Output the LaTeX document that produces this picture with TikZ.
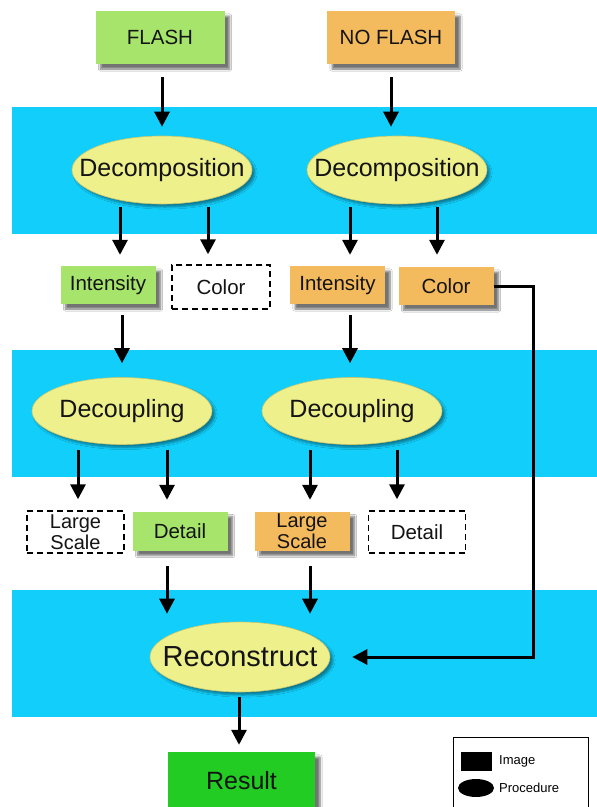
\documentclass[tikz,border=0pt]{standalone}
\usepackage{fontspec}
\setmainfont{Liberation Sans}
\usetikzlibrary{arrows.meta,calc,shadows.blur,shapes.geometric}

\definecolor{bandcyan}{RGB}{18,206,250}
\definecolor{flashgreen}{RGB}{166,228,108}
\definecolor{noflashorange}{RGB}{244,186,94}
\definecolor{procyellow}{RGB}{238,240,140}
\definecolor{procedge}{RGB}{200,200,110}
\definecolor{resultgreen}{RGB}{34,204,34}
\definecolor{inktext}{RGB}{20,20,20}

% ellipse label that does not widen its ellipse
\newcommand{\proclabel}[1]{\makebox[0pt]{#1}}

\tikzset{
  imgbox/.style={rectangle, inner sep=0pt, text=inktext,
    blur shadow={shadow xshift=5pt, shadow yshift=-5pt, shadow blur steps=6, shadow opacity=55}},
  greenbox/.style={imgbox, fill=flashgreen},
  orangebox/.style={imgbox, fill=noflashorange},
  emptybox/.style={rectangle, inner sep=0pt, fill=white, draw=black, line width=1.4pt,
    dash pattern=on 6pt off 4pt, text=inktext},
  procnode/.style={ellipse, inner sep=0pt, fill=procyellow, draw=procedge, line width=0.6pt,
    text=inktext, minimum width=180pt,
    blur shadow={shadow xshift=3pt, shadow yshift=-3pt, shadow blur steps=5, shadow opacity=40}},
  arr/.style={line width=3pt, -{Triangle[width=15pt,length=15pt]}},
  bigfont/.style={font=\fontsize{25}{30}\selectfont},
  midfont/.style={font=\fontsize{20.5}{22}\selectfont},
  smallfont/.style={font=\fontsize{13}{15}\selectfont},
}

\begin{document}
\begin{tikzpicture}[x=1pt,y=-1pt]
  \useasboundingbox (0,0) rectangle (597,807);
  \fill[white] (0,0) rectangle (597,807);

  % processing bands
  \fill[bandcyan] (12,107) rectangle (597,234);
  \fill[bandcyan] (12,350) rectangle (597,477);
  \fill[bandcyan] (12,590) rectangle (597,717);

  % input images
  \node[greenbox, midfont, minimum width=129pt, minimum height=53pt] (flash) at (160,37.5) {FLASH};
  \node[orangebox, midfont, minimum width=128pt, minimum height=53pt] (noflash) at (391,37.5) {NO FLASH};

  % decomposition
  \node[procnode, bigfont, minimum height=68pt] (dec1) at (162,170) {\proclabel{Decomposition}};
  \node[procnode, bigfont, minimum height=68pt] (dec2) at (397,170) {\proclabel{Decomposition}};

  \node[greenbox, midfont, minimum width=95pt, minimum height=38pt] (int1) at (108,285) {Intensity};
  \node[emptybox, midfont, minimum width=98pt, minimum height=44pt] (col1) at (221,287) {Color};
  \node[orangebox, midfont, minimum width=95pt, minimum height=38pt] (int2) at (337.5,285) {Intensity};
  \node[orangebox, midfont, minimum width=95pt, minimum height=38pt] (col2) at (446,286) {Color};

  % decoupling
  \node[procnode, bigfont, minimum height=67pt] (dcp1) at (122,411) {\proclabel{Decoupling}};
  \node[procnode, bigfont, minimum height=67pt] (dcp2) at (352,411) {\proclabel{Decoupling}};

  \node[emptybox, minimum width=97pt, minimum height=42pt, align=center,
        font=\fontsize{20}{21}\selectfont] (ls1) at (75.5,532) {Large\\Scale};
  \node[greenbox, midfont, minimum width=95pt, minimum height=39pt] (det1) at (180,531) {Detail};
  \node[orangebox, minimum width=95pt, minimum height=39pt, align=center,
        font=\fontsize{20}{21}\selectfont] (ls2) at (302,531) {Large\\Scale};
  \node[emptybox, midfont, minimum width=97pt, minimum height=42pt] (det2) at (417,532) {Detail};

  % reconstruction and result
  \node[procnode, font=\fontsize{29}{34}\selectfont, minimum height=70pt] (rec) at (240,657) {\proclabel{Reconstruct}};
  \node[imgbox, fill=resultgreen, bigfont, minimum width=147pt, minimum height=58pt] (res) at (241.5,781) {Result};

  % connectors
  \draw[arr] ($(flash.south)+(2,13)$) -- ($(dec1.north)+(0,-9)$);
  \draw[arr] ($(noflash.south)+(0,13)$) -- ($(dec2.north)+(-6,-9)$);

  \draw[arr] ($(dec1.south)+(-42,3)$) -- ($(int1.north)+(12,-11)$);
  \draw[arr] ($(dec1.south)+(46,3)$) -- ($(col1.north)+(-13,-10)$);
  \draw[arr] ($(dec2.south)+(-47,3)$) -- ($(int2.north)+(12.5,-11)$);
  \draw[arr] ($(dec2.south)+(40,3)$) -- ($(col2.north)+(-9,-12)$);

  \draw[arr] ($(int1.south)+(14,11)$) -- ($(dcp1.north)+(0,-14)$);
  \draw[arr] ($(int2.south)+(12.5,11)$) -- ($(dcp2.north)+(-2,-14)$);

  \draw[arr] ($(dcp1.south)+(-44,5.5)$) -- ($(ls1.north)+(2.5,-11)$);
  \draw[arr] ($(dcp1.south)+(45,5.5)$) -- ($(det1.north)+(-13,-11.5)$);
  \draw[arr] ($(dcp2.south)+(-42,5.5)$) -- ($(ls2.north)+(8,-11.5)$);
  \draw[arr] ($(dcp2.south)+(45,5.5)$) -- ($(det2.north)+(-20,-11)$);

  \draw[arr] ($(det1.south)+(-13,15.5)$) -- ($(rec.north)+(-73,-8)$);
  \draw[arr] ($(ls2.south)+(8,15.5)$) -- ($(rec.north)+(70,-8)$);
  \draw[arr] (col2.east) -- ++(40,0) |- ($(rec.east)+(22,0)$);

  \draw[arr] ($(rec.south)+(-1,5)$) -- ($(res.north)+(-2.5,-7)$);

  % legend
  \node[draw=black, line width=0.8pt, fill=white, minimum width=135pt, minimum height=75pt,
        inner sep=0pt, anchor=north west] (legend) at (453,737) {};
  \node[fill=black, minimum width=31pt, minimum height=19pt, inner sep=0pt] (legimg) at (476.5,761.5) {};
  \node[ellipse, fill=black, minimum width=36pt, minimum height=18pt, inner sep=0pt] (legproc) at (476,788) {};
  \node[smallfont, anchor=west, inner sep=0pt] (legimgtxt) at (499,761) {Image};
  \node[smallfont, anchor=west, inner sep=0pt] (legproctxt) at (499,788) {Procedure};
\end{tikzpicture}
\end{document}
